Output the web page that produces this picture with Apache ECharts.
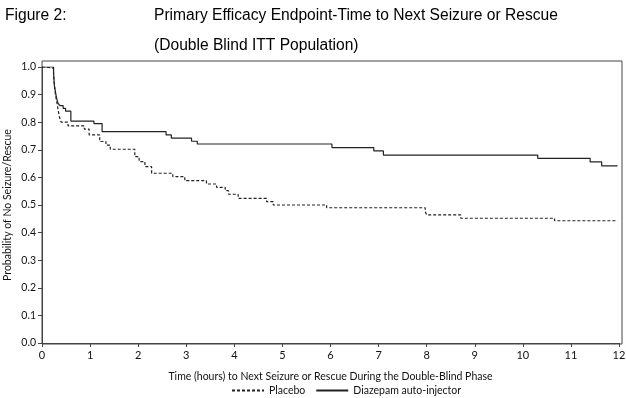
<!DOCTYPE html>
<html>
<head>
<meta charset="utf-8">
<script src="https://cdn.jsdelivr.net/npm/echarts@6/dist/echarts.min.js"></script>
<style>html,body{margin:0;padding:0;background:#fff}#c{width:626px;height:398px}</style>
</head>
<body>
<div id="c"></div>
<script>
// Kaplan-Meier step points: [time (hours), probability]
var placeboTimes = [0, 0.06, 0.24, 0.25, 0.26, 0.28, 0.32, 0.36, 0.40, 0.54, 0.88, 0.98, 1.20, 1.33, 1.42, 1.93, 2.02, 2.14, 2.28, 2.72, 2.97, 3.42, 3.63, 3.81, 3.88, 4.08, 4.67, 4.81, 5.92, 7.97, 8.00, 8.71, 10.66, 11.97];
var placeboProb  = [1.0, 0.996, 0.98, 0.95, 0.93, 0.90, 0.86, 0.82, 0.80, 0.787, 0.775, 0.754, 0.73, 0.717, 0.702, 0.675, 0.657, 0.639, 0.615, 0.603, 0.588, 0.576, 0.564, 0.552, 0.539, 0.524, 0.512, 0.50, 0.49, 0.476, 0.464, 0.452, 0.443, 0.443];
var diazTimes = [0, 0.24, 0.25, 0.26, 0.28, 0.30, 0.33, 0.37, 0.44, 0.49, 0.60, 1.08, 1.25, 2.58, 2.69, 3.11, 3.23, 6.03, 6.90, 7.10, 10.31, 11.40, 11.64, 11.97];
var diazProb  = [1.0, 0.98, 0.95, 0.93, 0.91, 0.89, 0.87, 0.86, 0.85, 0.84, 0.804, 0.795, 0.766, 0.754, 0.742, 0.731, 0.721, 0.708, 0.696, 0.681, 0.669, 0.656, 0.642, 0.642];
var seriesNames = ['Placebo', 'Diazepam auto-injector'];
var xTitle = 'Time (hours) to Next Seizure or Rescue During the Double-Blind Phase';
var yTitle = 'Probability of No Seizure/Rescue';

function pairs(xs, ys){ return xs.map(function(x,i){ return [x, ys[i]]; }); }

var axisFont = 'Lato, "Noto Sans", sans-serif';
var titleFont = '"Liberation Sans", Arial, sans-serif';
var chart = echarts.init(document.getElementById('c'), null, {renderer:'canvas'});
chart.setOption({
  animation: false,
  backgroundColor: '#fff',
  title: [
    {text: 'Figure 2:', left: 0, top: 3, textStyle:{fontFamily:titleFont, fontSize:15.6, fontWeight:'normal', color:'#000'}},
    {text: 'Primary Efficacy Endpoint-Time to Next Seizure or Rescue', left: 149, top: 3, textStyle:{fontFamily:titleFont, fontSize:15.6, fontWeight:'normal', color:'#000'}},
    {text: '(Double Blind ITT Population)', left: 149, top: 33, textStyle:{fontFamily:titleFont, fontSize:15.6, fontWeight:'normal', color:'#000'}}
  ],
  legend: {
    left: 226, top: 380, itemWidth: 32, itemHeight: 8, itemGap: 10,
    data: seriesNames,
    itemStyle: {opacity: 0},
    textStyle: {fontFamily: axisFont, fontSize: 10.5, color:'#111'}
  },
  grid: [
    {left: 42, right: 7, top: 67, bottom: 55, containLabel: false, outerBoundsMode: 'none'},
    {left: 42, right: 4, top: 61, bottom: 54, show: true, borderColor: '#444', borderWidth: 1, backgroundColor: 'transparent', containLabel: false, outerBoundsMode: 'none'}
  ],
  xAxis: [
    {type:'value', gridIndex:0, min:0, max:12, interval:1,
     name: xTitle, nameLocation:'middle', nameGap: 28, nameMoveOverlap: false,
     nameTextStyle:{fontFamily: axisFont, fontSize:10.5, color:'#111'},
     axisLine:{show:true, lineStyle:{color:'#444', width:1}},
     axisTick:{show:true, length:4, lineStyle:{color:'#444'}},
     axisLabel:{fontFamily: axisFont, fontSize:11, color:'#111', margin:7},
     splitLine:{show:false}},
    {type:'value', gridIndex:1, show:false, min:0, max:1}
  ],
  yAxis: [
    {type:'value', gridIndex:0, min:0, max:1, interval:0.1,
     name: yTitle, nameLocation:'middle', nameGap: 29, nameRotate: 90, nameMoveOverlap: false,
     nameTextStyle:{fontFamily: axisFont, fontSize:10.5, color:'#111'},
     axisLine:{show:true, lineStyle:{color:'#444', width:1}},
     axisTick:{show:true, length:4, lineStyle:{color:'#444'}},
     axisLabel:{fontFamily: axisFont, fontSize:10.5, color:'#111', margin:6,
                formatter:function(v){ return v.toFixed(1); }},
     splitLine:{show:false}},
    {type:'value', gridIndex:1, show:false, min:0, max:1}
  ],
  series: [
    {name: seriesNames[0], type:'line', step:'end', xAxisIndex:0, yAxisIndex:0,
     data: pairs(placeboTimes, placeboProb), symbol:'none',
     lineStyle:{color:'#222', width:1.2, type:[3,2]}, itemStyle:{color:'#222'}},
    {name: seriesNames[1], type:'line', step:'end', xAxisIndex:0, yAxisIndex:0,
     data: pairs(diazTimes, diazProb), symbol:'none',
     lineStyle:{color:'#222', width:1.2, type:'solid'}, itemStyle:{color:'#222'}}
  ]
});
</script>
</body>
</html>
